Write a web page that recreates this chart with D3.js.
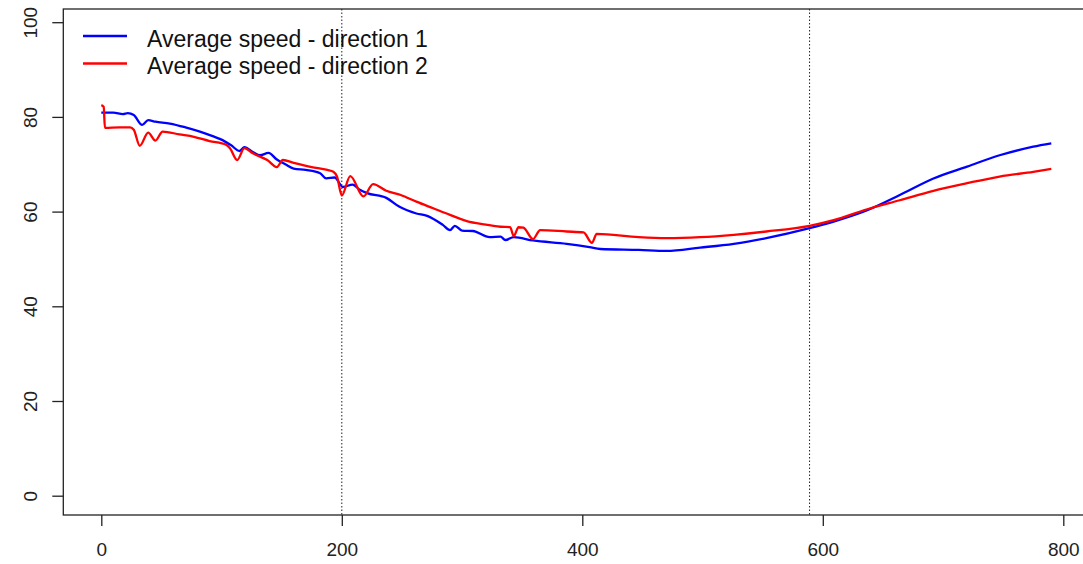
<html>
<meta charset="utf-8">
<script src="https://d3js.org/d3.v7.min.js"></script>
<style>
body{ margin:0; background:white; }
.axis text{ font-family: "Liberation Sans", Arial, sans-serif; font-size:19px; fill:#222; }
.legend text{ font-family: "Liberation Sans", Arial, sans-serif; font-size:23px; fill:#111; }
</style>
<body>
<div id="chart"></div>
<script>
// series 1 (blue)
var dir1X = [0,10,18,22,27,34,39,45,57,70,82,92,99,108,115,119,126,132,139,146,153,160,170,182,187,194,201,209,215,221,237,248,262,271,284,290,294,300,309,323,332,336,343,359,387,406,415,447,470,498,526,553,589,609,637,664,692,720,747,775,790];
var dir1Y = [80.9,80.9,80.6,80.8,80.4,78.3,79.3,79.0,78.6,77.8,76.9,76.0,75.3,74.0,72.8,73.6,72.6,71.9,72.4,71.0,70.0,69.1,68.8,68.1,67.0,67.2,65.2,65.7,64.6,63.9,62.9,61.0,59.6,59.1,57.2,56.1,57.0,56.0,55.9,54.6,54.7,54.0,54.6,53.9,53.2,52.5,52.1,51.9,51.7,52.4,53.2,54.4,56.5,57.9,60.3,63.5,67.0,69.5,71.9,73.7,74.4];

// series 2 (red)
var dir2X = [0,2,3,15,24,27,32,39,45,51,65,77,90,104,107,113,119,126,138,146,151,160,175,188,193,196,200,207,218,226,237,249,262,276,290,304,318,332,340,343,347,351,359,365,387,401,408,412,447,470,498,526,553,589,609,637,664,692,720,747,775,790];
var dir2Y = [82.5,82.1,77.7,77.8,77.8,77.3,73.9,76.7,75.0,76.9,76.3,75.8,74.9,74.1,73.4,70.9,73.4,72.3,70.9,69.4,70.9,70.3,69.4,68.8,68.4,67.4,63.4,67.5,63.2,65.8,64.4,63.5,62.1,60.7,59.3,58.0,57.3,56.8,56.7,54.8,56.7,56.6,54.2,56.1,55.8,55.6,53.4,55.3,54.6,54.4,54.6,55.1,55.8,57.0,58.2,60.5,62.4,64.4,66.0,67.4,68.4,69.0];

var xTicks = [0,200,400,600,800];
var yTicks = [0,20,40,60,80,100];
var vLines = [200,589];
var legendLabels = ["Average speed - direction 1","Average speed - direction 2"];
var seriesCols = ["#0000ff","#ff0000"];

var width = 1083, height = 564;
var boxL = 63.3, boxT = 9, boxB = 515;

var svg = d3.select("#chart").append("svg").attr("width",width).attr("height",height);

var x = d3.scaleLinear().domain([0,800]).range([101.3,1063.3]);
var y = d3.scaleLinear().domain([0,100]).range([495.7,22.2]);
var boxR = x(821.6);

// dotted reference lines
svg.selectAll(".vline").data(vLines).enter().append("line")
  .attr("class","vline")
  .attr("x1",function(d){return x(d)}).attr("x2",function(d){return x(d)})
  .attr("y1",boxT).attr("y2",boxB)
  .attr("stroke","#222").attr("stroke-width",1).attr("stroke-dasharray","1.5,2");

var line = d3.line()
  .x(function(d){return x(d[0])})
  .y(function(d){return y(d[1])})
  .curve(d3.curveMonotoneX);

var series = [d3.zip(dir1X,dir1Y), d3.zip(dir2X,dir2Y)];

svg.selectAll(".series").data(series).enter().append("path")
  .attr("class","series")
  .attr("d",line)
  .attr("fill","none")
  .attr("stroke",function(d,i){return seriesCols[i]})
  .attr("stroke-width",2.3)
  .attr("stroke-linejoin","round");

// box
svg.append("rect")
  .attr("x",boxL).attr("y",boxT).attr("width",boxR-boxL).attr("height",boxB-boxT)
  .attr("fill","none").attr("stroke","#222").attr("stroke-width",1.3);

// x axis
var xAxis = svg.append("g").attr("class","axis").attr("transform","translate(0,"+boxB+")")
  .call(d3.axisBottom(x).tickValues(xTicks).tickSize(11).tickPadding(17).tickFormat(d3.format("d")));
xAxis.select(".domain").remove();
xAxis.selectAll("line").attr("stroke","#222").attr("stroke-width",1.3);

// y axis, labels turned like R's las=0
var yAxis = svg.append("g").attr("class","axis").attr("transform","translate("+boxL+",0)")
  .call(d3.axisLeft(y).tickValues(yTicks).tickSize(11).tickFormat(d3.format("d")));
yAxis.select(".domain").remove();
yAxis.selectAll("line").attr("stroke","#222").attr("stroke-width",1.3);
yAxis.selectAll("text")
  .attr("x",0).attr("y",0).attr("dy",null)
  .attr("text-anchor","middle")
  .attr("transform","translate("+(37-boxL)+",0) rotate(-90)");

// legend
var legend = svg.append("g").attr("class","legend");
var lg = legend.selectAll("g").data(legendLabels).enter().append("g")
  .attr("transform",function(d,i){return "translate(0,"+(36+i*27.5)+")"});
lg.append("line").attr("x1",83).attr("x2",127).attr("y1",0).attr("y2",0)
  .attr("stroke",function(d,i){return seriesCols[i]}).attr("stroke-width",2.3);
lg.append("text").attr("x",147).attr("y",10.5).text(function(d){return d});
</script>
</body>
</html>
